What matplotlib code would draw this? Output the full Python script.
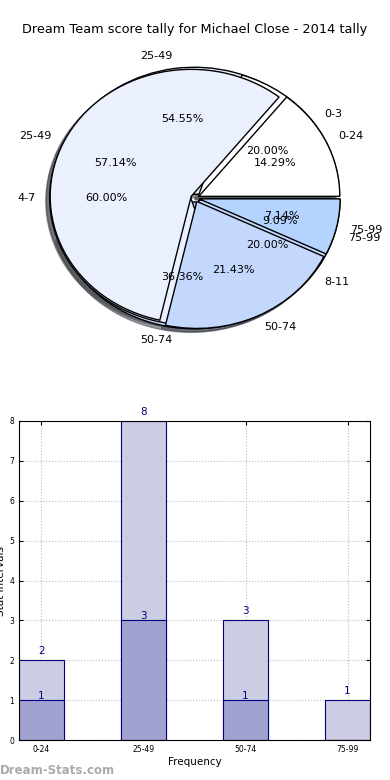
import matplotlib
matplotlib.use("Agg")
import matplotlib.pyplot as plt

# -----------------------------
# Data
# -----------------------------
score_labels = ['0-24', '25-49', '50-74', '75-99']
score_counts = [2, 8, 3, 1]

stat_labels = ['0-3', '4-7', '8-11']
stat_counts = [1, 3, 1]

other_labels = ['25-49', '50-74', '75-99']
other_counts = [6, 4, 1]

bar_labels = ['0-24', '25-49', '50-74', '75-99']
bar_total = [2, 8, 3, 1]
bar_inner = [1, 3, 1, 0]

pie_colors = ['#ffffff', '#eaf0fe', '#c4d8fd', '#b4d4ff']

fig = plt.figure(figsize=(3.9, 7.8), dpi=100)
W, H = 390.0, 780.0

# -----------------------------
# Pie (three overlaid pies)
# -----------------------------
cx, cy, rx, ry = 195.0, 198.0, 141.0, 127.0
lim = 1.25
ax1 = fig.add_axes([(cx - lim * rx) / W, (H - cy - lim * ry) / H,
                    2 * lim * rx / W, 2 * lim * ry / H])

ax1.pie(other_counts, labels=other_labels, autopct='%1.2f%%',
        colors=['#eaf0fe', '#c4d8fd', '#b4d4ff'], shadow=True,
        explode=[0.03] * 3, wedgeprops={'linewidth': 1, 'edgecolor': 'black'},
        textprops={'fontsize': 8})
ax1.pie(stat_counts, labels=stat_labels, autopct='%1.2f%%',
        colors=['#ffffff', '#eaf0fe', '#c4d8fd'], shadow=True,
        explode=[0.03] * 3, wedgeprops={'linewidth': 1, 'edgecolor': 'black'},
        textprops={'fontsize': 8})
ax1.pie(score_counts, labels=score_labels, autopct='%1.2f%%',
        colors=pie_colors, shadow=True,
        explode=[0.03] * 4, wedgeprops={'linewidth': 1, 'edgecolor': 'black'},
        textprops={'fontsize': 8})
ax1.set_aspect('auto')
ax1.set_xlim(-lim, lim)
ax1.set_ylim(-lim, lim)
ax1.axis('off')

fig.text(0.5, 1 - 30 / H, 'Dream Team score tally for Michael Close - 2014 tally',
         ha='center', va='center', fontsize=9.3)

# -----------------------------
# Bars
# -----------------------------
ax2 = fig.add_axes([19 / W, 1 - 740 / H, 351 / W, 319 / H])
x = list(range(len(bar_labels)))
w = 0.44
ax2.bar(x, bar_total, width=w, color='#cccce2', edgecolor='navy', linewidth=0.8, zorder=2)
ax2.bar(x, bar_inner, width=w, color='#a2a2d0', edgecolor='navy', linewidth=0.8, zorder=2)
for xi, v in zip(x, bar_total):
    ax2.text(xi, v + 0.1, str(v), ha='center', va='bottom', color='navy', fontsize=7.5)
for xi, v in zip(x, bar_inner):
    if v > 0:
        ax2.text(xi, v - 0.02, str(v), ha='center', va='bottom', color='navy', fontsize=7.5)
ax2.set_xlim(-w / 2, 3 + w / 2)
ax2.set_ylim(0, 8)
ax2.set_xticks(x)
ax2.set_xticklabels(bar_labels)
ax2.tick_params(labelsize=5.5, direction='in', top=True, right=True, length=3)
ax2.grid(True, color='#bbbbbb', linestyle=':', linewidth=0.8, zorder=0)
ax2.set_axisbelow(True)
ax2.set_xlabel('Frequency', fontsize=7.5, labelpad=2)
ax2.set_ylabel('Stat Intervals', fontsize=7.5, labelpad=2)

fig.text(0.0, 1 - 771 / H, 'Dream-Stats.com', ha='left', va='center',
         fontsize=8.5, color='#aaaaaa', fontweight='bold')

plt.savefig('out.png', dpi=100)
